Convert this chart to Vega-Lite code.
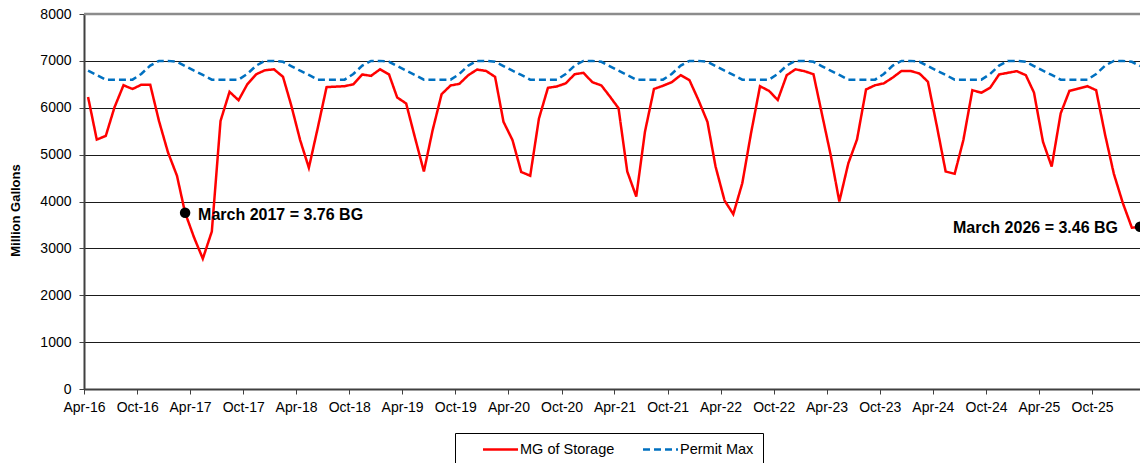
{
  "$schema": "https://vega.github.io/schema/vega-lite/v6.json",
  "width": 1056,
  "height": 375,
  "autosize": {"type": "none"},
  "padding": {"left": 84, "top": 14, "right": 0, "bottom": 74},
  "background": "white",
  "config": {"font": "Liberation Sans", "view": {"stroke": null}},
  "datasets": {
    "series": [
      {"date":"2016-04-15","series":"MG of Storage","value":6230},
      {"date":"2016-05-15","series":"MG of Storage","value":5320},
      {"date":"2016-06-15","series":"MG of Storage","value":5400},
      {"date":"2016-07-15","series":"MG of Storage","value":6010},
      {"date":"2016-08-15","series":"MG of Storage","value":6480},
      {"date":"2016-09-15","series":"MG of Storage","value":6400},
      {"date":"2016-10-15","series":"MG of Storage","value":6490},
      {"date":"2016-11-15","series":"MG of Storage","value":6490},
      {"date":"2016-12-15","series":"MG of Storage","value":5720},
      {"date":"2017-01-15","series":"MG of Storage","value":5050},
      {"date":"2017-02-15","series":"MG of Storage","value":4550},
      {"date":"2017-03-15","series":"MG of Storage","value":3760},
      {"date":"2017-04-15","series":"MG of Storage","value":3230},
      {"date":"2017-05-15","series":"MG of Storage","value":2780},
      {"date":"2017-06-15","series":"MG of Storage","value":3360},
      {"date":"2017-07-15","series":"MG of Storage","value":5720},
      {"date":"2017-08-15","series":"MG of Storage","value":6340},
      {"date":"2017-09-15","series":"MG of Storage","value":6160},
      {"date":"2017-10-15","series":"MG of Storage","value":6500},
      {"date":"2017-11-15","series":"MG of Storage","value":6715},
      {"date":"2017-12-15","series":"MG of Storage","value":6800},
      {"date":"2018-01-15","series":"MG of Storage","value":6820},
      {"date":"2018-02-15","series":"MG of Storage","value":6660},
      {"date":"2018-03-15","series":"MG of Storage","value":6060},
      {"date":"2018-04-15","series":"MG of Storage","value":5310},
      {"date":"2018-05-15","series":"MG of Storage","value":4720},
      {"date":"2018-06-15","series":"MG of Storage","value":5580},
      {"date":"2018-07-15","series":"MG of Storage","value":6440},
      {"date":"2018-08-15","series":"MG of Storage","value":6450},
      {"date":"2018-09-15","series":"MG of Storage","value":6460},
      {"date":"2018-10-15","series":"MG of Storage","value":6500},
      {"date":"2018-11-15","series":"MG of Storage","value":6710},
      {"date":"2018-12-15","series":"MG of Storage","value":6680},
      {"date":"2019-01-15","series":"MG of Storage","value":6820},
      {"date":"2019-02-15","series":"MG of Storage","value":6710},
      {"date":"2019-03-15","series":"MG of Storage","value":6220},
      {"date":"2019-04-15","series":"MG of Storage","value":6090},
      {"date":"2019-05-15","series":"MG of Storage","value":5370},
      {"date":"2019-06-15","series":"MG of Storage","value":4640},
      {"date":"2019-07-15","series":"MG of Storage","value":5520},
      {"date":"2019-08-15","series":"MG of Storage","value":6290},
      {"date":"2019-09-15","series":"MG of Storage","value":6475},
      {"date":"2019-10-15","series":"MG of Storage","value":6510},
      {"date":"2019-11-15","series":"MG of Storage","value":6695},
      {"date":"2019-12-15","series":"MG of Storage","value":6815},
      {"date":"2020-01-15","series":"MG of Storage","value":6785},
      {"date":"2020-02-15","series":"MG of Storage","value":6660},
      {"date":"2020-03-15","series":"MG of Storage","value":5700},
      {"date":"2020-04-15","series":"MG of Storage","value":5310},
      {"date":"2020-05-15","series":"MG of Storage","value":4630},
      {"date":"2020-06-15","series":"MG of Storage","value":4550},
      {"date":"2020-07-15","series":"MG of Storage","value":5770},
      {"date":"2020-08-15","series":"MG of Storage","value":6425},
      {"date":"2020-09-15","series":"MG of Storage","value":6455},
      {"date":"2020-10-15","series":"MG of Storage","value":6520},
      {"date":"2020-11-15","series":"MG of Storage","value":6715},
      {"date":"2020-12-15","series":"MG of Storage","value":6745},
      {"date":"2021-01-15","series":"MG of Storage","value":6545},
      {"date":"2021-02-15","series":"MG of Storage","value":6475},
      {"date":"2021-03-15","series":"MG of Storage","value":6250},
      {"date":"2021-04-15","series":"MG of Storage","value":5990},
      {"date":"2021-05-15","series":"MG of Storage","value":4640},
      {"date":"2021-06-15","series":"MG of Storage","value":4105},
      {"date":"2021-07-15","series":"MG of Storage","value":5490},
      {"date":"2021-08-15","series":"MG of Storage","value":6400},
      {"date":"2021-09-15","series":"MG of Storage","value":6470},
      {"date":"2021-10-15","series":"MG of Storage","value":6545},
      {"date":"2021-11-15","series":"MG of Storage","value":6695},
      {"date":"2021-12-15","series":"MG of Storage","value":6590},
      {"date":"2022-01-15","series":"MG of Storage","value":6165},
      {"date":"2022-02-15","series":"MG of Storage","value":5700},
      {"date":"2022-03-15","series":"MG of Storage","value":4745},
      {"date":"2022-04-15","series":"MG of Storage","value":4020},
      {"date":"2022-05-15","series":"MG of Storage","value":3730},
      {"date":"2022-06-15","series":"MG of Storage","value":4390},
      {"date":"2022-07-15","series":"MG of Storage","value":5455},
      {"date":"2022-08-15","series":"MG of Storage","value":6460},
      {"date":"2022-09-15","series":"MG of Storage","value":6360},
      {"date":"2022-10-15","series":"MG of Storage","value":6165},
      {"date":"2022-11-15","series":"MG of Storage","value":6695},
      {"date":"2022-12-15","series":"MG of Storage","value":6820},
      {"date":"2023-01-15","series":"MG of Storage","value":6780},
      {"date":"2023-02-15","series":"MG of Storage","value":6715},
      {"date":"2023-03-15","series":"MG of Storage","value":5900},
      {"date":"2023-04-15","series":"MG of Storage","value":5000},
      {"date":"2023-05-15","series":"MG of Storage","value":4000},
      {"date":"2023-06-15","series":"MG of Storage","value":4815},
      {"date":"2023-07-15","series":"MG of Storage","value":5325},
      {"date":"2023-08-15","series":"MG of Storage","value":6390},
      {"date":"2023-09-15","series":"MG of Storage","value":6480},
      {"date":"2023-10-15","series":"MG of Storage","value":6520},
      {"date":"2023-11-15","series":"MG of Storage","value":6645},
      {"date":"2023-12-15","series":"MG of Storage","value":6785},
      {"date":"2024-01-15","series":"MG of Storage","value":6785},
      {"date":"2024-02-15","series":"MG of Storage","value":6730},
      {"date":"2024-03-15","series":"MG of Storage","value":6555},
      {"date":"2024-04-15","series":"MG of Storage","value":5600},
      {"date":"2024-05-15","series":"MG of Storage","value":4640},
      {"date":"2024-06-15","series":"MG of Storage","value":4590},
      {"date":"2024-07-15","series":"MG of Storage","value":5310},
      {"date":"2024-08-15","series":"MG of Storage","value":6375},
      {"date":"2024-09-15","series":"MG of Storage","value":6320},
      {"date":"2024-10-15","series":"MG of Storage","value":6425},
      {"date":"2024-11-15","series":"MG of Storage","value":6710},
      {"date":"2024-12-15","series":"MG of Storage","value":6745},
      {"date":"2025-01-15","series":"MG of Storage","value":6780},
      {"date":"2025-02-15","series":"MG of Storage","value":6695},
      {"date":"2025-03-15","series":"MG of Storage","value":6325},
      {"date":"2025-04-15","series":"MG of Storage","value":5275},
      {"date":"2025-05-15","series":"MG of Storage","value":4745},
      {"date":"2025-06-15","series":"MG of Storage","value":5880},
      {"date":"2025-07-15","series":"MG of Storage","value":6360},
      {"date":"2025-08-15","series":"MG of Storage","value":6410},
      {"date":"2025-09-15","series":"MG of Storage","value":6460},
      {"date":"2025-10-15","series":"MG of Storage","value":6375},
      {"date":"2025-11-15","series":"MG of Storage","value":5420},
      {"date":"2025-12-15","series":"MG of Storage","value":4590},
      {"date":"2026-01-15","series":"MG of Storage","value":3965},
      {"date":"2026-02-15","series":"MG of Storage","value":3440},
      {"date":"2026-03-15","series":"MG of Storage","value":3460},
      {"date":"2016-04-15","series":"Permit Max","value":6790},
      {"date":"2016-05-15","series":"Permit Max","value":6700},
      {"date":"2016-06-15","series":"Permit Max","value":6600},
      {"date":"2016-07-15","series":"Permit Max","value":6600},
      {"date":"2016-08-15","series":"Permit Max","value":6600},
      {"date":"2016-09-15","series":"Permit Max","value":6600},
      {"date":"2016-10-15","series":"Permit Max","value":6720},
      {"date":"2016-11-15","series":"Permit Max","value":6900},
      {"date":"2016-12-15","series":"Permit Max","value":7000},
      {"date":"2017-01-15","series":"Permit Max","value":7000},
      {"date":"2017-02-15","series":"Permit Max","value":6980},
      {"date":"2017-03-15","series":"Permit Max","value":6890},
      {"date":"2017-04-15","series":"Permit Max","value":6790},
      {"date":"2017-05-15","series":"Permit Max","value":6700},
      {"date":"2017-06-15","series":"Permit Max","value":6600},
      {"date":"2017-07-15","series":"Permit Max","value":6600},
      {"date":"2017-08-15","series":"Permit Max","value":6600},
      {"date":"2017-09-15","series":"Permit Max","value":6600},
      {"date":"2017-10-15","series":"Permit Max","value":6720},
      {"date":"2017-11-15","series":"Permit Max","value":6900},
      {"date":"2017-12-15","series":"Permit Max","value":7000},
      {"date":"2018-01-15","series":"Permit Max","value":7000},
      {"date":"2018-02-15","series":"Permit Max","value":6980},
      {"date":"2018-03-15","series":"Permit Max","value":6890},
      {"date":"2018-04-15","series":"Permit Max","value":6790},
      {"date":"2018-05-15","series":"Permit Max","value":6700},
      {"date":"2018-06-15","series":"Permit Max","value":6600},
      {"date":"2018-07-15","series":"Permit Max","value":6600},
      {"date":"2018-08-15","series":"Permit Max","value":6600},
      {"date":"2018-09-15","series":"Permit Max","value":6600},
      {"date":"2018-10-15","series":"Permit Max","value":6720},
      {"date":"2018-11-15","series":"Permit Max","value":6900},
      {"date":"2018-12-15","series":"Permit Max","value":7000},
      {"date":"2019-01-15","series":"Permit Max","value":7000},
      {"date":"2019-02-15","series":"Permit Max","value":6980},
      {"date":"2019-03-15","series":"Permit Max","value":6890},
      {"date":"2019-04-15","series":"Permit Max","value":6790},
      {"date":"2019-05-15","series":"Permit Max","value":6700},
      {"date":"2019-06-15","series":"Permit Max","value":6600},
      {"date":"2019-07-15","series":"Permit Max","value":6600},
      {"date":"2019-08-15","series":"Permit Max","value":6600},
      {"date":"2019-09-15","series":"Permit Max","value":6600},
      {"date":"2019-10-15","series":"Permit Max","value":6720},
      {"date":"2019-11-15","series":"Permit Max","value":6900},
      {"date":"2019-12-15","series":"Permit Max","value":7000},
      {"date":"2020-01-15","series":"Permit Max","value":7000},
      {"date":"2020-02-15","series":"Permit Max","value":6980},
      {"date":"2020-03-15","series":"Permit Max","value":6890},
      {"date":"2020-04-15","series":"Permit Max","value":6790},
      {"date":"2020-05-15","series":"Permit Max","value":6700},
      {"date":"2020-06-15","series":"Permit Max","value":6600},
      {"date":"2020-07-15","series":"Permit Max","value":6600},
      {"date":"2020-08-15","series":"Permit Max","value":6600},
      {"date":"2020-09-15","series":"Permit Max","value":6600},
      {"date":"2020-10-15","series":"Permit Max","value":6720},
      {"date":"2020-11-15","series":"Permit Max","value":6900},
      {"date":"2020-12-15","series":"Permit Max","value":7000},
      {"date":"2021-01-15","series":"Permit Max","value":7000},
      {"date":"2021-02-15","series":"Permit Max","value":6980},
      {"date":"2021-03-15","series":"Permit Max","value":6890},
      {"date":"2021-04-15","series":"Permit Max","value":6790},
      {"date":"2021-05-15","series":"Permit Max","value":6700},
      {"date":"2021-06-15","series":"Permit Max","value":6600},
      {"date":"2021-07-15","series":"Permit Max","value":6600},
      {"date":"2021-08-15","series":"Permit Max","value":6600},
      {"date":"2021-09-15","series":"Permit Max","value":6600},
      {"date":"2021-10-15","series":"Permit Max","value":6720},
      {"date":"2021-11-15","series":"Permit Max","value":6900},
      {"date":"2021-12-15","series":"Permit Max","value":7000},
      {"date":"2022-01-15","series":"Permit Max","value":7000},
      {"date":"2022-02-15","series":"Permit Max","value":6980},
      {"date":"2022-03-15","series":"Permit Max","value":6890},
      {"date":"2022-04-15","series":"Permit Max","value":6790},
      {"date":"2022-05-15","series":"Permit Max","value":6700},
      {"date":"2022-06-15","series":"Permit Max","value":6600},
      {"date":"2022-07-15","series":"Permit Max","value":6600},
      {"date":"2022-08-15","series":"Permit Max","value":6600},
      {"date":"2022-09-15","series":"Permit Max","value":6600},
      {"date":"2022-10-15","series":"Permit Max","value":6720},
      {"date":"2022-11-15","series":"Permit Max","value":6900},
      {"date":"2022-12-15","series":"Permit Max","value":7000},
      {"date":"2023-01-15","series":"Permit Max","value":7000},
      {"date":"2023-02-15","series":"Permit Max","value":6980},
      {"date":"2023-03-15","series":"Permit Max","value":6890},
      {"date":"2023-04-15","series":"Permit Max","value":6790},
      {"date":"2023-05-15","series":"Permit Max","value":6700},
      {"date":"2023-06-15","series":"Permit Max","value":6600},
      {"date":"2023-07-15","series":"Permit Max","value":6600},
      {"date":"2023-08-15","series":"Permit Max","value":6600},
      {"date":"2023-09-15","series":"Permit Max","value":6600},
      {"date":"2023-10-15","series":"Permit Max","value":6720},
      {"date":"2023-11-15","series":"Permit Max","value":6900},
      {"date":"2023-12-15","series":"Permit Max","value":7000},
      {"date":"2024-01-15","series":"Permit Max","value":7000},
      {"date":"2024-02-15","series":"Permit Max","value":6980},
      {"date":"2024-03-15","series":"Permit Max","value":6890},
      {"date":"2024-04-15","series":"Permit Max","value":6790},
      {"date":"2024-05-15","series":"Permit Max","value":6700},
      {"date":"2024-06-15","series":"Permit Max","value":6600},
      {"date":"2024-07-15","series":"Permit Max","value":6600},
      {"date":"2024-08-15","series":"Permit Max","value":6600},
      {"date":"2024-09-15","series":"Permit Max","value":6600},
      {"date":"2024-10-15","series":"Permit Max","value":6720},
      {"date":"2024-11-15","series":"Permit Max","value":6900},
      {"date":"2024-12-15","series":"Permit Max","value":7000},
      {"date":"2025-01-15","series":"Permit Max","value":7000},
      {"date":"2025-02-15","series":"Permit Max","value":6980},
      {"date":"2025-03-15","series":"Permit Max","value":6890},
      {"date":"2025-04-15","series":"Permit Max","value":6790},
      {"date":"2025-05-15","series":"Permit Max","value":6700},
      {"date":"2025-06-15","series":"Permit Max","value":6600},
      {"date":"2025-07-15","series":"Permit Max","value":6600},
      {"date":"2025-08-15","series":"Permit Max","value":6600},
      {"date":"2025-09-15","series":"Permit Max","value":6600},
      {"date":"2025-10-15","series":"Permit Max","value":6720},
      {"date":"2025-11-15","series":"Permit Max","value":6900},
      {"date":"2025-12-15","series":"Permit Max","value":7000},
      {"date":"2026-01-15","series":"Permit Max","value":7000},
      {"date":"2026-02-15","series":"Permit Max","value":6980},
      {"date":"2026-03-15","series":"Permit Max","value":6890}
    ],
    "notes": [
      {"date":"2017-03-15","value":3760,"label":"March 2017 = 3.76 BG"},
      {"date":"2026-03-15","value":3460,"label":"March 2026 = 3.46 BG"}
    ],
    "top": [{"value": 8000}]
  },
  "layer": [
    {
      "data": {"name": "series"},
      "mark": {"type": "line", "strokeWidth": 2.5, "clip": true},
      "encoding": {
        "x": {
          "field": "date", "type": "temporal",
          "scale": {"type": "utc", "domain": ["2016-04-01", "2026-03-15"]},
          "axis": {
            "title": null,
            "values": ["2016-04-01","2016-10-01","2017-04-01","2017-10-01","2018-04-01","2018-10-01","2019-04-01","2019-10-01","2020-04-01","2020-10-01","2021-04-01","2021-10-01","2022-04-01","2022-10-01","2023-04-01","2023-10-01","2024-04-01","2024-10-01","2025-04-01","2025-10-01"],
            "labelExpr": "utcFormat(datum.value, '%b-%y')",
            "grid": false,
            "domainColor": "#404040", "domainWidth": 2,
            "tickColor": "#404040", "tickSize": 5, "tickWidth": 1,
            "labelFontSize": 14, "labelColor": "black", "labelPadding": 6.5,
            "labelFlush": false, "labelOverlap": false
          }
        },
        "y": {
          "field": "value", "type": "quantitative",
          "scale": {"domain": [0, 8000], "nice": false},
          "axis": {
            "values": [0, 1000, 2000, 3000, 4000, 5000, 6000, 7000, 8000],
            "format": "d",
            "title": "Million Gallons",
            "titleFontSize": 13, "titleFontWeight": "bold", "titleColor": "black",
            "titleX": -69, "titleY": 196, "titleAngle": -90, "titleAlign": "center", "titleBaseline": "middle",
            "labelFontSize": 14, "labelColor": "black", "labelPadding": 8,
            "tickSize": 5, "tickColor": "#404040",
            "domainColor": "#404040", "domainWidth": 2,
            "grid": true, "gridColor": "#1a1a1a", "gridWidth": 1, "gridOpacity": 1
          }
        },
        "color": {
          "field": "series", "type": "nominal",
          "scale": {"domain": ["MG of Storage", "Permit Max"], "range": ["#ff0000", "#0070c0"]},
          "legend": {
            "title": null, "orient": "none", "legendX": 371, "legendY": 419, "direction": "horizontal",
            "strokeColor": "black", "fillColor": "white", "padding": 9,
            "symbolType": "M-3,0H3", "symbolSize": 136, "symbolStrokeWidth": 2.5, "symbolOffset": 29,
            "labelFontSize": 14.5, "labelColor": "black", "labelOffset": 12, "columnPadding": 9
          }
        },
        "strokeDash": {
          "field": "series", "type": "nominal",
          "scale": {"domain": ["MG of Storage", "Permit Max"], "range": [[1, 0], [7, 4]]},
          "legend": {
            "title": null, "orient": "none", "legendX": 371, "legendY": 419, "direction": "horizontal",
            "strokeColor": "black", "fillColor": "white", "padding": 9,
            "symbolType": "M-3,0H3", "symbolSize": 136, "symbolStrokeWidth": 2.5, "symbolOffset": 29,
            "labelFontSize": 14.5, "labelColor": "black", "labelOffset": 12, "columnPadding": 9
          }
        }
      }
    },
    {
      "data": {"name": "top"},
      "mark": {"type": "rule", "color": "#8c8c8c", "strokeWidth": 2.5},
      "encoding": {"y": {"field": "value", "type": "quantitative"}}
    },
    {
      "data": {"name": "notes"},
      "mark": {"type": "point", "filled": true, "size": 110, "color": "black", "opacity": 1},
      "encoding": {
        "x": {"field": "date", "type": "temporal"},
        "y": {"field": "value", "type": "quantitative"}
      }
    },
    {
      "data": {"name": "notes"},
      "transform": [{"filter": {"field": "label", "equal": "March 2017 = 3.76 BG"}}],
      "mark": {"type": "text", "align": "left", "baseline": "middle", "dx": 13, "dy": 2, "fontSize": 16, "fontWeight": "bold", "color": "black"},
      "encoding": {
        "x": {"field": "date", "type": "temporal"},
        "y": {"field": "value", "type": "quantitative"},
        "text": {"field": "label"}
      }
    },
    {
      "data": {"name": "notes"},
      "transform": [{"filter": {"field": "label", "equal": "March 2026 = 3.46 BG"}}],
      "mark": {"type": "text", "align": "right", "baseline": "middle", "dx": -22, "dy": 1, "fontSize": 16, "fontWeight": "bold", "color": "black"},
      "encoding": {
        "x": {"field": "date", "type": "temporal"},
        "y": {"field": "value", "type": "quantitative"},
        "text": {"field": "label"}
      }
    }
  ]
}
